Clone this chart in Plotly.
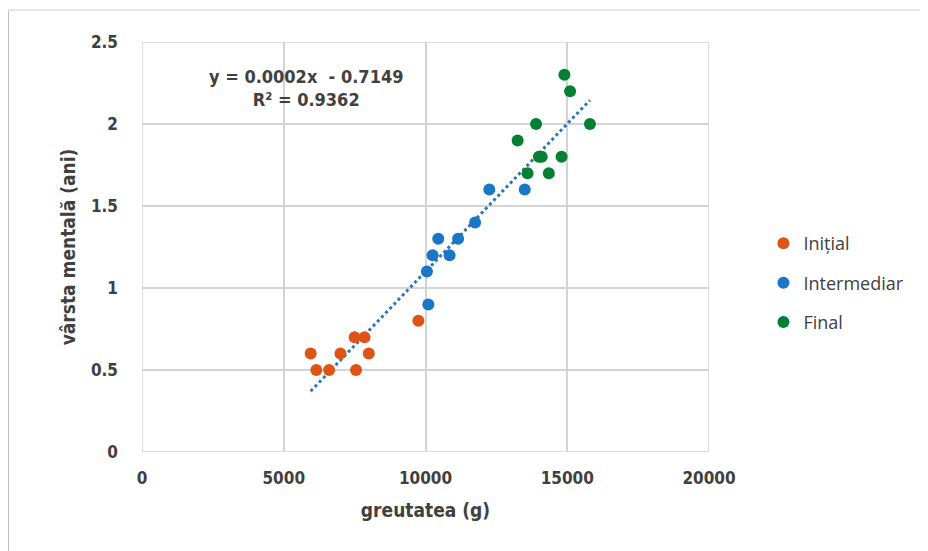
import numpy as np
import plotly.graph_objects as go

initial_x = [5950, 6150, 6600, 7000, 7500, 7850, 7550, 8000, 9750]
initial_y = [0.6, 0.5, 0.5, 0.6, 0.7, 0.7, 0.5, 0.6, 0.8]
inter_x = [10100, 10050, 10250, 10450, 10850, 11150, 11750, 12250, 13500]
inter_y = [0.9, 1.1, 1.2, 1.3, 1.2, 1.3, 1.4, 1.6, 1.6]
final_x = [14900, 15100, 13900, 15800, 13250, 14000, 14100, 14800, 13600, 14350]
final_y = [2.3, 2.2, 2.0, 2.0, 1.9, 1.8, 1.8, 1.8, 1.7, 1.7]

x_ticks = [0, 5000, 10000, 15000, 20000]
y_ticks = [0, 0.5, 1, 1.5, 2, 2.5]
equation = "y = 0.0002x  - 0.7149"
r2_text = "R² = 0.9362"

all_x = np.array(initial_x + inter_x + final_x, dtype=float)
all_y = np.array(initial_y + inter_y + final_y, dtype=float)
slope, intercept = np.polyfit(all_x, all_y, 1)
tx = np.linspace(all_x.min(), all_x.max(), 2)
ty = slope * tx + intercept

font_fam = "Liberation Sans Narrow, DejaVu Sans Condensed, Arial Narrow, sans-serif"

fig = go.Figure()
fig.add_trace(go.Scatter(x=tx, y=ty, mode="lines", showlegend=False,
                         line=dict(color="#2E75B6", width=3, dash="dot"), hoverinfo="skip"))
fig.add_trace(go.Scatter(x=initial_x, y=initial_y, mode="markers", name="Inițial", legendgroup="a",
                         marker=dict(color="#DD5414", size=12)))
fig.add_trace(go.Scatter(x=inter_x, y=inter_y, mode="markers", name="Intermediar", legendgroup="b",
                         marker=dict(color="#1A76C6", size=12)))
fig.add_trace(go.Scatter(x=final_x, y=final_y, mode="markers", name="Final", legendgroup="c",
                         marker=dict(color="#058033", size=12)))

fig.update_layout(
    width=928, height=551,
    margin=dict(l=134, r=227, t=34, b=107),
    paper_bgcolor="white", plot_bgcolor="white",
    font=dict(family=font_fam, color="#404040"),
    xaxis=dict(range=[0, 20000], tickvals=x_ticks, ticktext=[f"<b>{v}</b>" for v in x_ticks],
               showgrid=True, gridcolor="#d4d4d4", gridwidth=1.5, zeroline=False,
               showline=False, tickfont=dict(size=17, color="#404040"), ticks="",
               ticklabelstandoff=14,
               title=dict(text="<b>greutatea (g)</b>", font=dict(size=19, color="#404040"), standoff=16)),
    yaxis=dict(range=[0, 2.5], tickvals=y_ticks, ticktext=[f"<b>{v:g}</b>" for v in y_ticks],
               showgrid=True, gridcolor="#d4d4d4", gridwidth=1.5, zeroline=False,
               showline=False, tickfont=dict(size=17, color="#404040"), ticks="",
               ticklabelstandoff=23,
               title=dict(text="<b>vârsta mentală (ani)</b>", font=dict(size=19, color="#404040"), standoff=10)),
    legend=dict(x=1.096, y=0.412, xanchor="left", yanchor="middle",
                font=dict(size=18, color="#404040", family="Open Sans, sans-serif"),
                tracegroupgap=13, itemsizing="constant"),
    annotations=[
        dict(text=f"<b>{equation}</b><br><b>{r2_text}</b>", x=0.29, y=0.888, xref="paper", yref="paper",
             xanchor="center", yanchor="middle",
             showarrow=False, font=dict(size=18, color="#404040"), align="center"),
    ],
    shapes=[
        dict(type="line", xref="paper", yref="paper", x0=-0.238, x1=-0.238, y0=-0.25, y1=1.078,
             line=dict(color="#8c8c8c", width=3)),
        dict(type="line", xref="paper", yref="paper", x0=-0.238, x1=1.4, y0=1.078, y1=1.078,
             line=dict(color="#e6e6e6", width=2)),
    ],
)
fig.add_shape(type="rect", xref="x", yref="y", x0=0, x1=20000, y0=0, y1=2.5,
              line=dict(color="#d4d4d4", width=1.5), layer="below")

fig.write_html("out.html")
